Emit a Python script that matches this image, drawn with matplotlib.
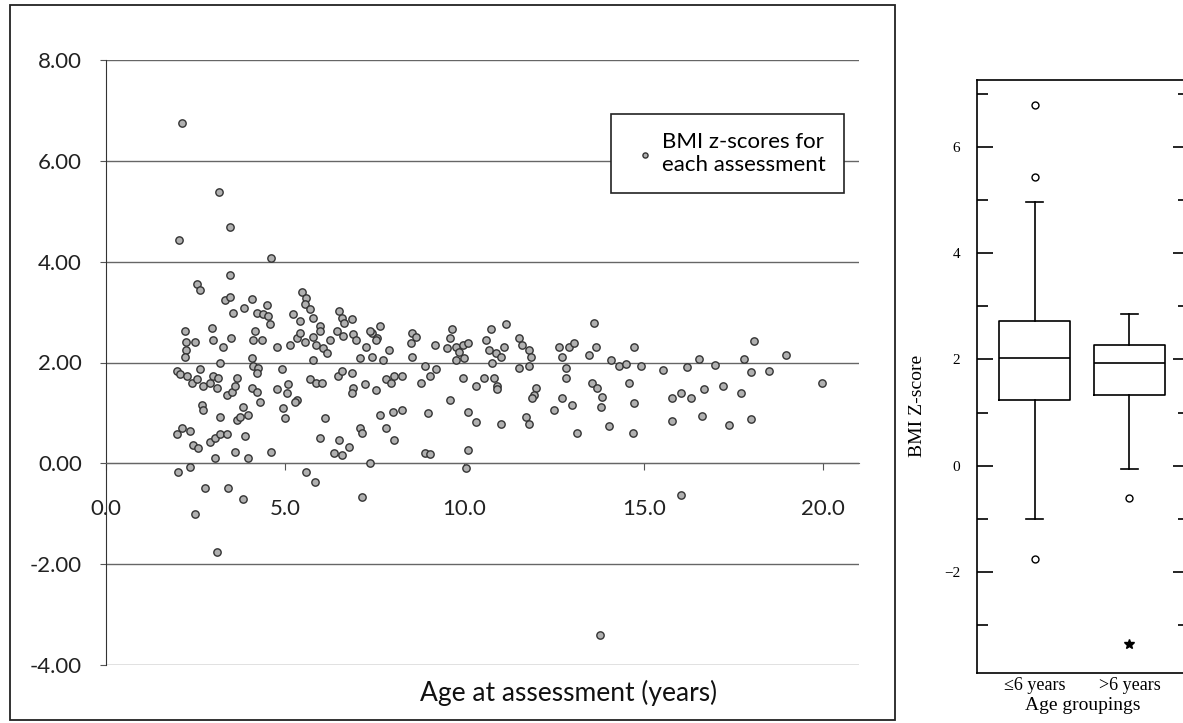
import matplotlib
matplotlib.use("Agg")
import matplotlib.pyplot as plt
from matplotlib.patches import Rectangle
from matplotlib.ticker import FormatStrFormatter, MultipleLocator

plt.rcParams['font.family'] = ['Lato', 'DejaVu Sans']

# BMI z-score per assessment (age in years, z-score)
age = [2.13, 2.05, 3.17, 3.46, 4.62, 3.46, 2.55, 2.63, 3.33, 3.46,
       4.08, 3.86, 3.55, 4.21, 4.38, 4.49, 4.58, 4.53, 5.49, 5.60,
       5.55, 5.69, 5.22, 5.41, 5.78, 5.97, 6.52, 6.58, 6.86, 6.66,
       7.64, 7.44, 7.58, 2.21, 2.24, 2.49, 2.24, 2.21, 2.96, 3.00,
       3.27, 3.49, 4.16, 4.11, 4.35, 4.77, 5.13, 5.33, 5.41, 5.55,
       5.78, 5.97, 5.88, 6.05, 6.16, 6.25, 6.44, 6.61, 6.89, 6.99,
       7.27, 7.36, 7.55, 7.08, 7.44, 7.72, 7.91, 5.78, 4.08, 4.11,
       4.24, 4.21, 4.91, 3.19, 1.99, 2.07, 2.27, 2.41, 2.55, 2.63,
       2.71, 2.91, 3.00, 3.13, 3.10, 3.38, 3.52, 3.66, 3.60, 4.08,
       4.21, 4.30, 4.77, 5.08, 5.05, 5.33, 5.69, 5.88, 6.02, 6.47,
       6.58, 6.86, 6.89, 6.86, 7.22, 7.55, 7.83, 7.97, 8.05, 2.69,
       2.71, 3.19, 3.66, 3.83, 3.97, 3.75, 4.94, 5.00, 5.27, 6.11,
       7.08, 7.64, 8.00, 7.83, 1.99, 2.13, 2.35, 2.44, 2.57, 2.91,
       3.05, 3.19, 3.38, 3.88, 3.05, 3.60, 3.97, 4.61, 5.97, 6.52,
       6.80, 6.38, 6.58, 7.36, 2.02, 2.35, 2.77, 3.41, 5.60, 5.83,
       2.49, 3.83, 3.10, 7.14, 7.14,
       8.27, 8.55, 8.66, 8.52, 8.55, 8.80, 8.90, 9.03, 9.22, 9.17,
       9.67, 9.59, 9.53, 9.78, 9.95, 10.10, 9.86, 9.78, 10.00, 9.95,
       10.33, 10.56, 10.84, 10.92, 10.90, 10.75, 11.17, 10.61, 10.70, 10.89,
       11.03, 10.78, 11.11, 11.53, 11.62, 11.81, 11.86, 11.81, 11.53, 12.00,
       11.95, 11.90, 11.72, 11.81, 12.64, 12.72, 12.92, 13.06, 12.84, 12.84,
       12.72, 13.00, 12.50, 13.14, 13.62, 13.67, 13.48, 13.56, 13.70, 13.84,
       13.81, 14.09, 14.30, 14.50, 14.92, 14.72, 14.60, 14.72, 14.04, 14.69,
       8.90, 9.03, 10.10, 10.06, 8.27, 8.05, 8.98, 9.59, 10.10, 10.33,
       11.03,
       15.55, 16.20, 16.55, 17.00, 15.78, 16.05, 16.31, 16.67, 17.22, 17.71,
       15.79, 16.62, 17.37, 18.00, 17.80, 18.08, 18.00, 18.50, 18.97, 19.97,
       16.04, 13.77]
zscore = [6.75, 4.43, 5.39, 4.69, 4.07, 3.74, 3.56, 3.43, 3.23, 3.29,
          3.25, 3.09, 2.99, 2.99, 2.97, 3.15, 2.77, 2.93, 3.39, 3.27,
          3.17, 3.07, 2.97, 2.83, 2.89, 2.73, 3.03, 2.89, 2.87, 2.79,
          2.73, 2.59, 2.49, 2.63, 2.40, 2.40, 2.24, 2.10, 2.69, 2.44,
          2.30, 2.49, 2.63, 2.44, 2.44, 2.30, 2.34, 2.48, 2.59, 2.40,
          2.50, 2.63, 2.34, 2.28, 2.18, 2.44, 2.63, 2.53, 2.57, 2.44,
          2.30, 2.63, 2.44, 2.08, 2.10, 2.04, 2.24, 2.04, 2.08, 1.94,
          1.90, 1.80, 1.88, 2.00, 1.84, 1.78, 1.74, 1.60, 1.68, 1.88,
          1.54, 1.60, 1.74, 1.70, 1.50, 1.35, 1.41, 1.70, 1.54, 1.50,
          1.41, 1.21, 1.48, 1.58, 1.39, 1.25, 1.68, 1.60, 1.60, 1.74,
          1.84, 1.80, 1.50, 1.39, 1.58, 1.45, 1.68, 1.60, 1.74, 1.15,
          1.05, 0.91, 0.85, 1.11, 0.95, 0.91, 1.09, 0.89, 1.21, 0.89,
          0.71, 0.95, 1.01, 0.71, 0.59, 0.71, 0.65, 0.36, 0.30, 0.42,
          0.50, 0.59, 0.59, 0.55, 0.10, 0.22, 0.10, 0.22, 0.50, 0.46,
          0.32, 0.20, 0.16, 0.00, -0.18, -0.08, -0.48, -0.48, -0.18, -0.38,
          -1.00, -0.70, -1.76, -0.67, 0.60,
          1.74, 2.59, 2.50, 2.38, 2.10, 1.60, 1.94, 1.74, 1.88, 2.34,
          2.67, 2.48, 2.28, 2.30, 2.34, 2.38, 2.20, 2.04, 2.08, 1.70,
          1.54, 1.70, 1.70, 1.54, 1.48, 2.67, 2.77, 2.44, 2.24, 2.18,
          2.10, 2.00, 2.30, 2.48, 2.34, 2.24, 2.10, 1.94, 1.90, 1.50,
          1.35, 1.29, 0.91, 0.79, 2.30, 2.10, 2.30, 2.38, 1.90, 1.70,
          1.29, 1.15, 1.05, 0.61, 2.79, 2.30, 2.14, 1.60, 1.50, 1.31,
          1.11, 2.04, 1.94, 1.98, 1.94, 2.30, 1.60, 1.19, 0.75, 0.61,
          0.20, 0.18, 0.26, -0.10, 1.05, 0.46, 0.99, 1.25, 1.01, 0.81,
          0.79,
          1.86, 1.92, 2.06, 1.96, 1.29, 1.40, 1.30, 1.48, 1.53, 1.40,
          0.83, 0.93, 0.77, 0.88, 2.07, 2.43, 1.82, 1.84, 2.14, 1.60,
          -0.63, -3.41]

# boxplot summary by age group
groups = ['≤6 years', '>6 years']
box_q1 = [1.23, 1.34]
box_med = [2.02, 1.94]
box_q3 = [2.72, 2.28]
whis_lo = [-1.00, -0.06]
whis_hi = [4.96, 2.85]
outliers = [[6.79, 5.43, -1.75], [-0.60]]
extremes = [[], [-3.36]]

W, H = 1183, 723
fig = plt.figure(figsize=(W / 100, H / 100), dpi=100)

# ---- left: Excel-style scatter ----
ax = fig.add_axes([105.5 / W, 1 - 665 / H, (859 - 105.5) / W, 605 / H])
ax.scatter(age, zscore, s=28, facecolor='#b0b0b0', edgecolor='#333333',
           linewidths=1.0, zorder=3, label='BMI z-scores for\neach assessment')
ax.set_xlim(0, 21)
ax.set_ylim(-4, 8)
ax.set_yticks(range(-4, 9, 2))
ax.set_xticks([0, 5, 10, 15, 20])
ax.yaxis.set_major_formatter(FormatStrFormatter('%.2f'))
ax.xaxis.set_major_formatter(FormatStrFormatter('%.1f'))
ax.grid(axis='y', color='#666666', lw=1.0)
ax.set_axisbelow(True)
for s in ['top', 'right']:
    ax.spines[s].set_visible(False)
ax.spines['bottom'].set_position(('data', 0))
ax.spines['bottom'].set_color('#666666')
ax.spines['left'].set_color('#333333')
ax.tick_params(axis='y', direction='out', length=4, pad=13, labelsize=16,
               labelcolor='#222222', color='#555555')
ax.tick_params(axis='x', direction='out', length=5, pad=21, labelsize=16,
               labelcolor='#222222', color='#555555')

leg = ax.legend(loc='upper right', bbox_to_anchor=(0.980, 0.911), borderaxespad=0,
                fancybox=False, edgecolor='#222222', framealpha=1, fontsize=16,
                handletextpad=0.1, handlelength=1.4, markerscale=0.7, borderpad=0.8,
                labelspacing=0.3)
leg.get_frame().set_linewidth(1.2)

fig.text(569 / W, 1 - 693 / H, 'Age at assessment (years)', fontsize=19,
         ha='center', va='center', color='#111111')

fig.add_artist(Rectangle((10 / W, 3 / H), 885 / W, 715 / H, transform=fig.transFigure,
                         fill=False, ec='#222222', lw=1.3))

# ---- right: SPSS-style boxplot ----
serif = ['Liberation Serif', 'DejaVu Serif']
ax2 = fig.add_axes([977 / W, 1 - 673 / H, 212 / W, 593 / H])
stats = []
for i in range(len(groups)):
    stats.append(dict(label=groups[i], q1=box_q1[i], med=box_med[i], q3=box_q3[i],
                      whislo=whis_lo[i], whishi=whis_hi[i], fliers=outliers[i]))
line = dict(color='black', lw=1.2)
ax2.bxp(stats, positions=[1, 2], widths=0.75, capwidths=0.18,
        boxprops=line, medianprops=line, whiskerprops=line, capprops=line,
        flierprops=dict(marker='o', mfc='white', mec='black', ms=5, mew=1.0))
for i, ex in enumerate(extremes):
    if ex:
        ax2.plot([i + 1] * len(ex), ex, ls='none', marker='*', color='black', ms=7)

ax2.set_xlim(0.39, 2.63)
ax2.set_ylim(-3.90, 7.26)
ax2.yaxis.set_major_locator(MultipleLocator(2))
ax2.yaxis.set_minor_locator(MultipleLocator(1))
ax2.tick_params(axis='y', which='both', direction='in', left=True, right=True)
ax2.tick_params(axis='y', which='major', length=11.5, width=1.2, pad=12, labelsize=11)
ax2.tick_params(axis='y', which='minor', length=8, width=1.2)
ax2.tick_params(axis='x', length=0, pad=3, labelsize=13)
for s in ax2.spines.values():
    s.set_linewidth(1.2)
for lab in ax2.get_xticklabels() + ax2.get_yticklabels():
    lab.set_fontfamily(serif)
ax2.set_xlabel('Age groupings', fontsize=14, family=serif, labelpad=2)
ax2.set_ylabel('BMI Z-score', fontsize=14, family=serif)
ax2.yaxis.set_label_coords(-0.24, 0.45)

fig.savefig('out.png', dpi=100)
